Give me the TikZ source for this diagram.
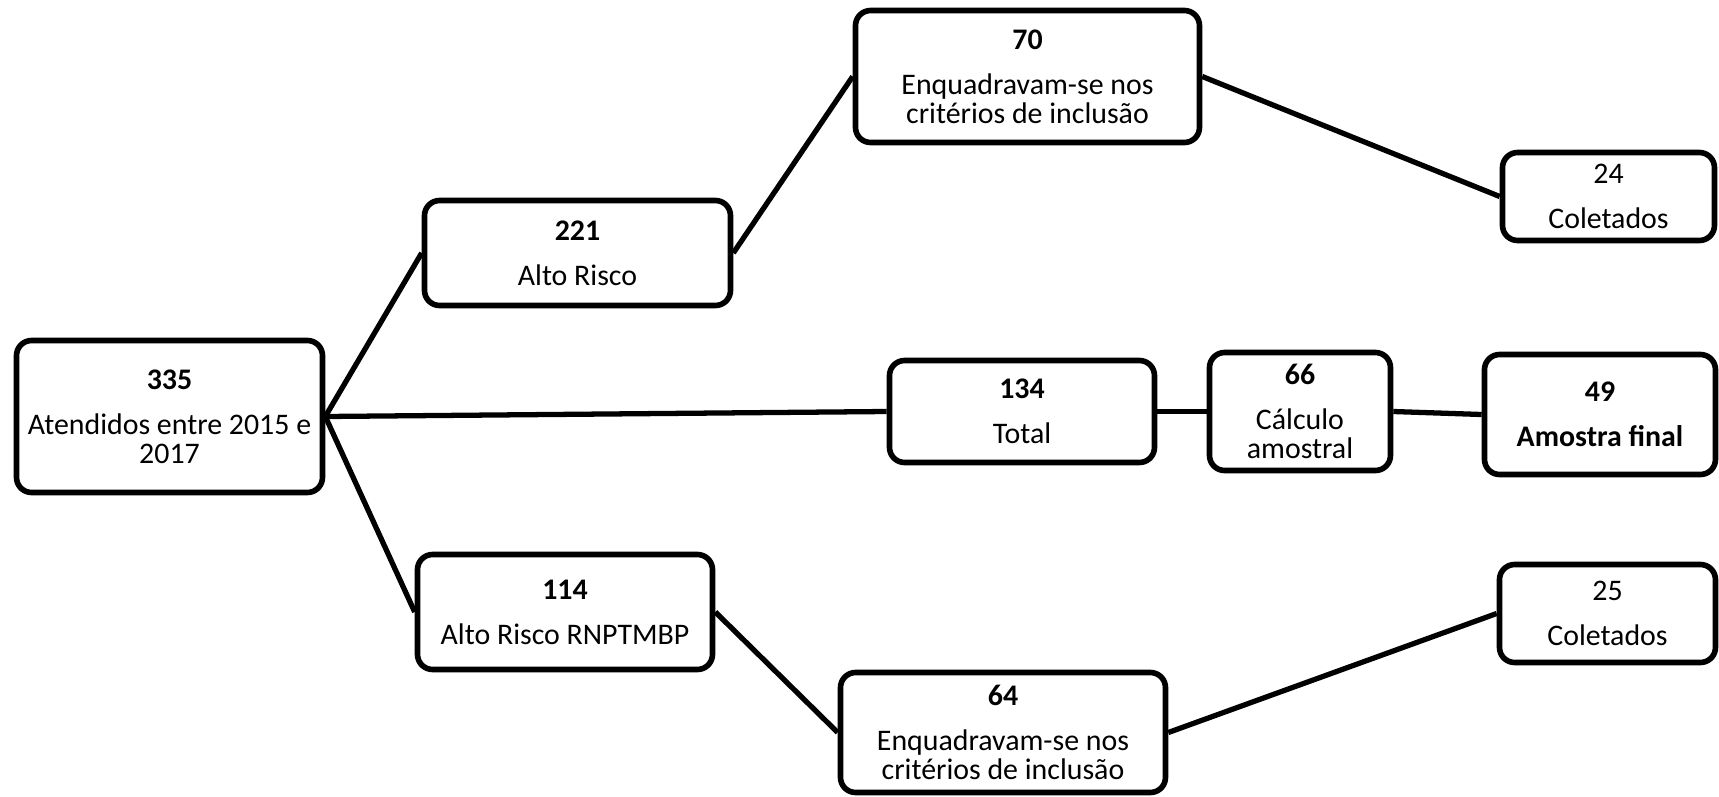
\documentclass[tikz,border=0pt]{standalone}
\usepackage{fontspec}
\setmainfont{Carlito}
\usepackage{tikz}

\begin{document}
\begin{tikzpicture}[x=1cm,y=-1cm,
  caixa/.style={draw,line width=1.6pt,rounded corners=4.3pt,align=center,inner sep=0pt,
    font=\fontsize{8.5}{8.2}\selectfont},
  linha/.style={line width=1.5pt}]
\useasboundingbox (0,0) rectangle (17.19,7.96);
\node[caixa,minimum width=3.06cm,minimum height=1.52cm] (n335) at (1.695,4.165) {\textbf{335}\\[4.6pt]Atendidos entre 2015 e\\2017};
\node[caixa,minimum width=3.06cm,minimum height=1.05cm] (n221) at (5.775,2.53) {\textbf{221}\\[4.6pt]Alto Risco};
\node[caixa,minimum width=3.44cm,minimum height=1.32cm] (n70) at (10.275,0.765) {\textbf{70}\\[4.6pt]Enquadravam-se nos\\critérios de inclusão};
\node[caixa,minimum width=2.12cm,minimum height=0.88cm] (n24) at (16.085,1.965) {24\\[4.6pt]Coletados};
\node[caixa,minimum width=2.65cm,minimum height=1.02cm] (n134) at (10.22,4.115) {\textbf{134}\\[4.6pt]Total};
\node[caixa,minimum width=1.81cm,minimum height=1.18cm] (n66) at (13.00,4.115) {\textbf{66}\\[4.6pt]Cálculo\\amostral};
\node[caixa,minimum width=2.31cm,minimum height=1.20cm] (n49) at (16.00,4.145) {\textbf{49}\\[4.6pt]\textbf{Amostra final}};
\node[caixa,minimum width=2.95cm,minimum height=1.15cm] (n114) at (5.65,6.12) {\textbf{114}\\[4.6pt]Alto Risco RNPTMBP};
\node[caixa,minimum width=3.25cm,minimum height=1.20cm] (n64) at (10.03,7.325) {\textbf{64}\\[4.6pt]Enquadravam-se nos\\critérios de inclusão};
\node[caixa,minimum width=2.16cm,minimum height=0.98cm] (n25) at (16.075,6.135) {25\\[4.6pt]Coletados};
\foreach \a/\b in {n335/n221,n221/n70,n70/n24,n335/n134,n134/n66,n66/n49,n335/n114,n114/n64,n64/n25}
    \draw[linha] (\a.east) -- (\b.west);
\end{tikzpicture}
\end{document}
